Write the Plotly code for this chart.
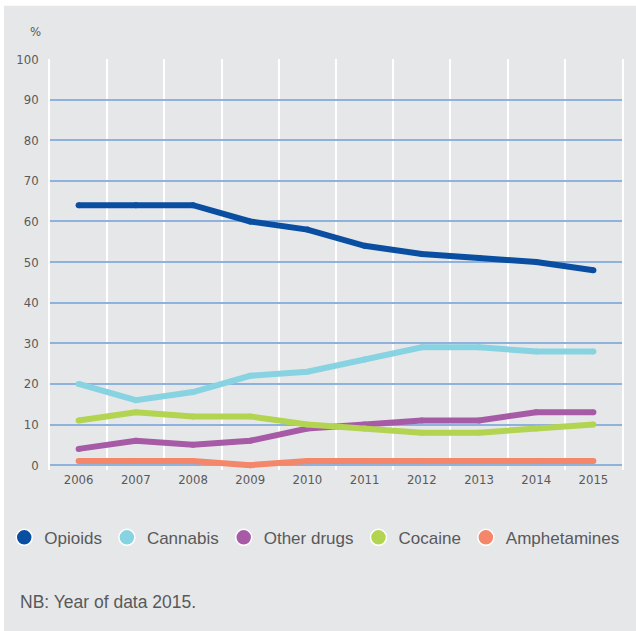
import plotly.graph_objects as go

years = ["2006", "2007", "2008", "2009", "2010", "2011", "2012", "2013", "2014", "2015"]
opioids = [64, 64, 64, 60, 58, 54, 52, 51, 50, 48]
cannabis = [20, 16, 18, 22, 23, 26, 29, 29, 28, 28]
other_drugs = [4, 6, 5, 6, 9, 10, 11, 11, 13, 13]
cocaine = [11, 13, 12, 12, 10, 9, 8, 8, 9, 10]
amphetamines = [1, 1, 1, 0, 1, 1, 1, 1, 1, 1]

series_names = ["Opioids", "Cannabis", "Other drugs", "Cocaine", "Amphetamines"]
series_values = [opioids, cannabis, other_drugs, cocaine, amphetamines]
colors = ["#0a4ea2", "#88d3e1", "#a75ba7", "#b2d450", "#f4876a"]

y_ticks = [0, 10, 20, 30, 40, 50, 60, 70, 80, 90, 100]

fig = go.Figure()

for name, vals, col in zip(series_names, series_values, colors):
    fig.add_trace(go.Scatter(
        x=years, y=vals, mode="lines+markers", name=name,
        line=dict(color=col, width=6),
        marker=dict(color=col, size=6),
        showlegend=False, legendgroup=name, hoverinfo="x+y+name",
    ))

for name, col in zip(series_names, colors):
    fig.add_trace(go.Scatter(
        x=[None], y=[None], mode="markers", name=name,
        marker=dict(color=col, size=16, line=dict(color="white", width=1.5)),
        showlegend=True, legendgroup=name,
    ))

grid_blue = "#8fb1dd"
tick_font = dict(family="DejaVu Sans Condensed, Roboto, sans-serif", size=13, color="#5a5a5a")

fig.update_layout(
    width=636, height=631,
    margin=dict(l=50, r=14, t=59, b=161, autoexpand=False),
    paper_bgcolor="white",
    plot_bgcolor="rgba(0,0,0,0)",
    showlegend=True,
    legend=dict(
        orientation="h", x=-0.08, xanchor="left", y=-0.165, yanchor="middle",
        font=dict(family="Liberation Sans", size=17, color="#58595b"),
        bgcolor="rgba(0,0,0,0)", borderwidth=0,
    ),
    xaxis=dict(
        type="category", categoryorder="array", categoryarray=years,
        range=[-0.5, 9.5], tickson="boundaries",
        showgrid=True, gridcolor="white", gridwidth=1.5,
        ticks="outside", ticklen=10, tickcolor="rgba(0,0,0,0)",
        tickfont=tick_font, showline=False, zeroline=False, fixedrange=True,
    ),
    yaxis=dict(
        range=[-1.2, 100], tickvals=y_ticks, ticktext=[str(v) for v in y_ticks],
        showgrid=True, gridcolor=grid_blue, gridwidth=1.5,
        zeroline=True, zerolinecolor=grid_blue, zerolinewidth=1.5,
        ticks="outside", ticklen=7, tickcolor="rgba(0,0,0,0)",
        tickfont=tick_font, fixedrange=True,
        showline=True, linecolor="white", linewidth=1.5, mirror=True,
    ),
    shapes=[dict(
        type="rect", xref="paper", yref="paper",
        x0=-0.0804, x1=1.06, y0=-0.5, y1=1.1294,
        fillcolor="#e6e7e9", line=dict(width=0), layer="below",
    )],
    annotations=[
        dict(text="%", xref="paper", yref="paper", x=-0.0253, y=1.0674,
             xanchor="center", yanchor="middle", showarrow=False,
             font=dict(family="DejaVu Sans Condensed, Roboto, sans-serif", size=13, color="#5a5a5a")),
        dict(text="NB: Year of data 2015.", xref="paper", yref="paper",
             x=-0.0565, y=-0.3207, xanchor="left", yanchor="middle", showarrow=False,
             font=dict(family="Liberation Sans", size=17.5, color="#58595b")),
    ],
)

fig.write_html(
    "out.html",
    config={"displayModeBar": False},
    post_script="document.body.style.margin='0';document.body.style.overflow='hidden';",
)
